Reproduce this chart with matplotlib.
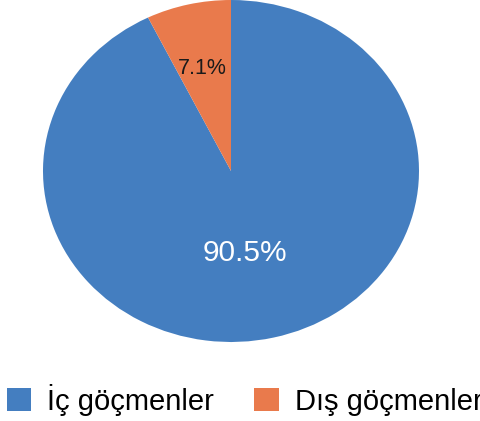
import matplotlib.pyplot as plt

labels = ['İç göçmenler', 'Dış göçmenler']
values = [90.5, 7.1]
pct_text = ['90.5%', '7.1%']
colors = ['#447EC0', '#E97A4C']

plt.rcParams['font.family'] = ['Liberation Sans', 'DejaVu Sans']

fig = plt.figure(figsize=(4.81, 4.21), dpi=100)
# pie is a bit wider than tall in the original, so no equal aspect
ax = fig.add_axes([43 / 481, (421 - 342) / 421, 376 / 481, 342 / 421])

wedges, _ = ax.pie(values, colors=colors, startangle=90, counterclock=False,
                   radius=1)
ax.set_aspect('auto')
ax.set_xlim(-1, 1)
ax.set_ylim(-1, 1)

# percentage labels
ax.text(-0.15, 0.6, pct_text[1], ha='center', va='center', fontsize=15.5,
        color='#1a1a1a')
ax.text(0.075, -0.48, pct_text[0], ha='center', va='center', fontsize=21.5,
        color='white')

fig.legend(wedges, labels, loc='center left', bbox_to_anchor=(7 / 481, 0.05),
           ncol=2, frameon=False, fontsize=21, handlelength=0.83,
           handleheight=0.83, handletextpad=0.55, columnspacing=1.38,
           borderaxespad=0, borderpad=0)

fig.savefig('out.png', dpi=100)
